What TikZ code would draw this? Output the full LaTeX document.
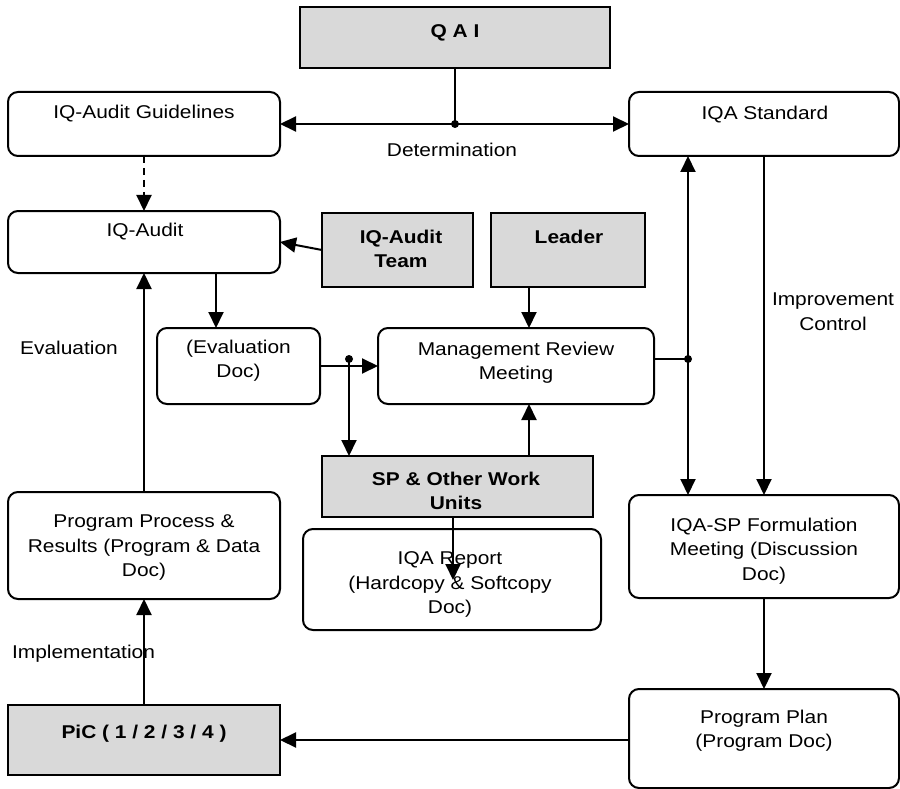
\documentclass[tikz,border=0pt]{standalone}
\usepackage{fontspec}
\setmainfont[FakeStretch=1.13]{Liberation Sans}
\usetikzlibrary{arrows.meta}
\definecolor{unitgray}{RGB}{217,217,217}
\begin{document}
\begin{tikzpicture}[x=1pt,y=-1pt,
  line width=2pt,
  font=\fontsize{18.5}{24.5}\selectfont,
  every node/.style={inner sep=0pt, outer sep=0pt},
  docbox/.style 2 args={draw, fill=white, rounded corners=10pt,
    minimum width=#1 pt, minimum height=#2 pt},
  unitbox/.style 2 args={draw, fill=unitgray,
    minimum width=#1 pt, minimum height=#2 pt},
  txt/.style={align=center, anchor=north},
  btxt/.style={txt, font=\fontsize{18.5}{24.5}\selectfont\bfseries},
  arr/.style={-{Triangle[length=16pt,width=15pt]}},
  dashedarr/.style={arr, dash pattern=on 7pt off 5pt},
  junction/.style={fill=black}
]
\useasboundingbox (0,0) rectangle (900,789);

% ---- boxes ----
\node[unitbox={310}{61}]  (qai)    at (455,37.5)   {};
\node[docbox={272}{64}]   (guide)  at (144,124)    {};
\node[docbox={270}{64}]   (std)    at (764,124)    {};
\node[docbox={272}{62}]   (audit)  at (144,242)    {};
\node[unitbox={151}{74}]  (team)   at (397.5,250)  {};
\node[unitbox={154}{74}]  (leader) at (568,250)    {};
\node[docbox={163}{76}]   (evdoc)  at (238.5,366)  {};
\node[docbox={276}{76}]   (mgmt)   at (516,366)    {};
\node[unitbox={271}{61}]  (sp)     at (457.5,486.5) {};
\node[docbox={298}{101}]  (report) at (452,579.5)  {};
\node[docbox={272}{107}]  (proc)   at (144,545.5)  {};
\node[docbox={270}{103}]  (form)   at (764,546.5)  {};
\node[docbox={270}{99}]   (plan)   at (764,738.5)  {};
\node[unitbox={272}{70}]  (pic)    at (144,740)    {};

% ---- box texts ----
\node[btxt] (qai-t)    at (455,25)    {Q A I};
\node[txt]  (guide-t)  at (144,105)   {IQ-Audit Guidelines};
\node[txt]  (std-t)    at (765,106)   {IQA Standard};
\node[txt]  (audit-t)  at (145,223)   {IQ-Audit};
\node[btxt] (team-t)   at (401,230)   {IQ-Audit\\Team};
\node[btxt] (leader-t) at (569,230)   {Leader};
\node[txt]  (evdoc-t)  at (238.5,340) {(Evaluation\\Doc)};
\node[txt]  (mgmt-t)   at (516,342)   {Management Review\\Meeting};
\node[btxt] (sp-t)     at (456,472)   {SP \& Other Work\\Units};
\node[txt]  (report-t) at (450,552)   {IQA Report\\(Hardcopy \& Softcopy\\Doc)};
\node[txt]  (proc-t)   at (144,515)   {Program Process \&\\Results (Program \& Data\\Doc)};
\node[txt]  (form-t)   at (764,518)   {IQA-SP Formulation\\Meeting (Discussion\\Doc)};
\node[txt]  (plan-t)   at (764,710)   {Program Plan\\(Program Doc)};
\node[btxt] (pic-t)    at (144,725)   {PiC ( 1 / 2 / 3 / 4 )};

% ---- free labels ----
\node[txt] (det-l)  at (452,143)  {Determination};
\node[txt] (eval-l) at (69,341)   {Evaluation};
\node[txt] (impc-l) at (833,293)  {Improvement\\Control};
\node[txt] (impl-l) at (83.5,645) {Implementation};

% ---- junction points ----
\coordinate (det) at (qai.south |- guide.east);
\coordinate (ej)  at (349,359);
\coordinate (rj)  at (688,359);
\coordinate (ax)  at ([xshift=72pt]audit.south);
\coordinate (lx)  at ([xshift=13pt]mgmt.north);
\coordinate (rp)  at ([xshift=-4.5pt,yshift=-63pt]sp.south);

% ---- connectors ----
\draw (qai.south) -- (det);
\draw[arr] (det) -- (guide.east);
\draw[arr] (det) -- (std.west);
\draw[dashedarr] (guide.south) -- (audit.north);
\draw[arr] (team.west) -- (audit.east);
\draw[arr] (ax) -- (ax |- evdoc.north);
\draw[arr] (lx |- leader.south) -- (lx);
\draw[arr] (evdoc.east) -- (mgmt.west);
\draw[arr] (ej) -- (ej |- sp.north);
\draw[arr] (lx |- sp.north) -- (lx |- mgmt.south);
\draw[arr] (rp |- sp.south) -- (rp);
\draw ([yshift=7pt]mgmt.east) -- (rj);
\draw[arr] (rj) -- (rj |- std.south);
\draw[arr] (rj) -- (rj |- form.north);
\draw[arr] (std.south) -- (form.north);
\draw[arr] (form.south) -- (plan.north);
\draw[arr] (pic.east -| plan.west) -- (pic.east);
\draw[arr] (pic.north) -- (proc.south);
\draw[arr] (proc.north) -- (audit.south);

\fill[junction] (det) circle (4pt);
\fill[junction] (ej) circle (4pt);
\fill[junction] (rj) circle (4pt);
\end{tikzpicture}
\end{document}
